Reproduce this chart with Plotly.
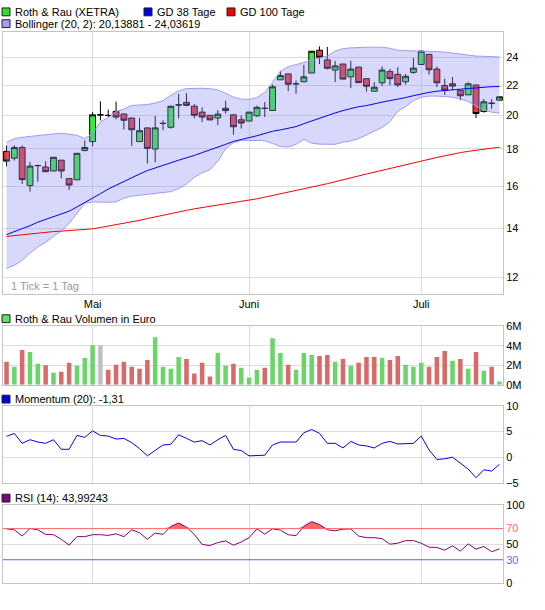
import numpy as np
import pandas as pd
import plotly.graph_objects as go
from plotly.subplots import make_subplots

W, H = 545, 610
L_PX, R_PX = 3, 503

# XETRA trading days 16.04.2009 - 15.07.2009 (1 May closed)
days = [d.strftime('%Y-%m-%d') for d in pd.bdate_range('2009-04-16', '2009-07-15')
        if d.strftime('%m-%d') != '05-01']
month_days = ['2009-05-04', '2009-06-01', '2009-07-01']
month_names = ['Mai', 'Juni', 'Juli']

open_ = [17.85, 17.47, 18.07, 16.02, 17.06, 16.99, 16.78, 17.36,
         16.38, 16.32, 17.90, 18.41, 20.03, 20.00, 20.25, 20.08,
         19.83, 18.41, 19.22, 17.98, 19.49, 19.26, 20.66, 20.83,
         20.58, 20.20, 20.00, 19.83, 20.45, 20.03, 19.72, 19.64,
         19.97, 20.45, 20.31, 22.37, 22.79, 22.08, 22.23, 22.85,
         24.56, 23.82, 23.07, 23.51, 22.58, 23.28, 22.45, 21.58,
         22.16, 22.97, 22.76, 22.23, 22.90, 23.48, 24.24, 23.14,
         21.97, 22.09, 21.64, 21.33, 22.01, 20.24, 20.78, 20.98]
high = [18.18, 18.20, 18.19, 17.27, 17.12, 17.30, 17.53, 17.37,
        16.39, 17.75, 18.47, 20.20, 20.90, 20.36, 20.88, 20.10,
        19.84, 19.83, 19.23, 19.97, 19.69, 20.62, 21.40, 21.44,
        20.72, 20.51, 20.01, 20.33, 20.94, 20.05, 19.99, 20.21,
        20.62, 20.85, 22.04, 23.02, 22.80, 22.32, 23.45, 24.50,
        24.86, 24.81, 23.73, 23.52, 23.75, 23.31, 22.46, 22.21,
        23.33, 23.15, 23.28, 22.79, 23.96, 24.56, 24.25, 23.33,
        22.45, 22.56, 21.65, 22.20, 22.02, 21.05, 21.05, 21.21]
low = [17.02, 17.34, 16.10, 15.72, 16.22, 16.74, 16.77, 16.40,
       15.80, 16.31, 17.85, 18.13, 19.68, 19.89, 19.74, 19.13,
       18.16, 18.40, 17.18, 17.25, 19.08, 19.18, 19.80, 20.58,
       19.82, 19.58, 19.70, 19.39, 20.11, 18.81, 19.18, 19.63,
       19.89, 19.89, 20.30, 22.36, 21.59, 21.41, 22.22, 22.84,
       23.51, 23.12, 22.21, 22.41, 21.79, 22.16, 21.55, 21.57,
       21.93, 21.99, 21.86, 22.04, 22.79, 23.47, 22.74, 21.86,
       21.33, 21.66, 20.98, 21.32, 19.82, 20.17, 20.41, 20.97]
close = [17.31, 18.07, 16.33, 17.04, 17.07, 16.74, 17.52, 16.78,
         16.05, 17.74, 18.07, 20.03, 20.03, 19.99, 19.89, 19.69,
         19.11, 19.05, 18.02, 19.22, 19.50, 20.58, 20.67, 20.64,
         20.00, 19.89, 19.71, 20.07, 20.30, 19.29, 19.52, 20.20,
         20.51, 20.44, 21.88, 22.67, 22.06, 22.10, 22.58, 24.48,
         24.02, 23.20, 23.37, 22.42, 23.14, 22.17, 21.92, 21.85,
         23.07, 22.45, 22.01, 22.62, 23.21, 24.48, 23.09, 22.16,
         21.65, 21.93, 21.27, 22.09, 20.11, 20.87, 20.77, 21.20]

# Volumen in Mio. Euro
volume = [2.35, 1.85, 3.56, 3.36, 2.15, 2.01, 1.24, 1.34,
          2.25, 1.95, 2.75, 4.06, 4.06, 1.54, 2.05, 2.35,
          1.85, 1.64, 2.55, 4.87, 1.85, 1.64, 2.85, 2.65,
          1.14, 2.25, 0.84, 3.26, 1.95, 2.15, 1.74, 0.74,
          1.54, 1.74, 4.77, 3.26, 2.05, 1.54, 3.26, 3.05,
          2.95, 3.05, 2.35, 2.65, 1.95, 2.25, 2.85, 2.85,
          2.75, 2.55, 2.95, 2.05, 1.85, 2.25, 1.85, 2.85,
          3.46, 2.45, 2.65, 1.64, 3.36, 1.44, 1.85, 0.34]

gd38 = [13.73, 13.85, 13.97, 14.12, 14.28, 14.40, 14.52, 14.64,
        14.78, 14.98, 15.18, 15.42, 15.62, 15.85, 16.05, 16.25,
        16.45, 16.62, 16.80, 16.95, 17.10, 17.22, 17.36, 17.48,
        17.62, 17.78, 17.95, 18.10, 18.25, 18.42, 18.55, 18.64,
        18.75, 18.90, 19.02, 19.10, 19.18, 19.30, 19.48, 19.65,
        19.82, 20.00, 20.15, 20.30, 20.45, 20.55, 20.62, 20.75,
        20.85, 20.95, 21.03, 21.15, 21.28, 21.40, 21.50, 21.58,
        21.64, 21.68, 21.72, 21.76, 21.82, 21.87, 21.89, 21.90]
gd100 = [13.65, 13.69, 13.72, 13.76, 13.79, 13.83, 13.86, 13.88,
         13.90, 13.92, 13.95, 13.98, 14.04, 14.10, 14.16, 14.23,
         14.30, 14.36, 14.44, 14.52, 14.60, 14.68, 14.75, 14.82,
         14.89, 14.95, 15.02, 15.08, 15.13, 15.19, 15.24, 15.29,
         15.37, 15.45, 15.53, 15.61, 15.69, 15.77, 15.85, 15.93,
         16.02, 16.12, 16.22, 16.33, 16.43, 16.52, 16.62, 16.72,
         16.81, 16.90, 17.00, 17.10, 17.20, 17.31, 17.41, 17.51,
         17.60, 17.70, 17.78, 17.85, 17.92, 17.98, 18.03, 18.08]
bb_upper = [18.36, 18.58, 18.66, 18.72, 18.75, 18.81, 18.86, 18.90,
            18.86, 18.78, 18.58, 18.89, 19.59, 19.86, 20.24, 20.40,
            20.63, 20.66, 20.69, 20.79, 20.95, 21.31, 21.60, 21.76,
            21.78, 21.78, 21.75, 21.67, 21.44, 21.18, 21.05, 21.03,
            21.14, 21.51, 22.19, 22.97, 23.31, 23.45, 23.63, 23.82,
            23.96, 24.11, 24.49, 24.68, 24.74, 24.79, 24.79, 24.79,
            24.79, 24.71, 24.56, 24.52, 24.51, 24.51, 24.49, 24.45,
            24.41, 24.33, 24.26, 24.15, 24.11, 24.09, 24.07, 24.04]
bb_lower = [12.34, 12.46, 12.66, 12.95, 13.20, 13.40, 13.65, 13.88,
            14.22, 14.70, 15.15, 15.22, 15.20, 15.20, 15.22, 15.40,
            15.50, 15.55, 15.58, 15.62, 15.68, 15.72, 15.88, 16.10,
            16.45, 16.68, 16.85, 17.30, 18.00, 18.35, 18.48, 18.48,
            18.48, 18.46, 18.30, 18.12, 18.10, 18.25, 18.54, 18.32,
            18.26, 18.25, 18.25, 18.38, 18.45, 18.58, 18.80, 19.05,
            19.25, 19.60, 20.25, 20.55, 20.95, 21.18, 21.25, 21.25,
            21.22, 21.18, 21.05, 20.90, 20.60, 20.35, 20.20, 20.14]

momentum = [4.08, 4.65, 2.74, 3.44, 2.99, 2.74, 3.44, 1.59,
            1.59, 4.27, 3.89, 5.16, 4.27, 4.14, 3.57, 3.69,
            2.87, 1.72, 0.32, 1.40, 2.42, 2.55, 4.39, 3.69,
            2.99, 3.25, 2.42, 3.44, 4.27, 1.59, 1.34, 0.32,
            0.45, 0.45, 2.42, 2.99, 2.99, 2.99, 4.78, 5.41,
            4.65, 2.74, 2.74, 1.85, 3.12, 2.42, 2.23, 1.85,
            2.74, 3.12, 2.61, 2.61, 2.74, 4.14, 1.46, -0.38,
            -0.25, 0.06, -1.15, -2.23, -3.89, -2.36, -2.61, -1.31]
rsi = [69.7, 68.5, 60.5, 70.2, 68.5, 62.6, 62.2, 56.3,
       48.7, 59.7, 59.7, 62.2, 62.2, 61.3, 63.4, 59.7,
       68.5, 64.7, 56.3, 64.3, 62.6, 72.7, 77.3, 71.8,
       62.6, 49.6, 48.3, 52.1, 54.2, 48.7, 52.9, 58.4,
       69.7, 63.0, 69.7, 68.1, 62.2, 60.9, 73.1, 79.0,
       75.2, 68.5, 67.2, 69.3, 69.7, 60.5, 58.4, 58.4,
       57.1, 50.0, 51.3, 54.6, 54.6, 51.3, 46.2, 45.8,
       42.4, 47.9, 41.2, 50.4, 43.7, 47.1, 40.3, 43.99]
RSI_HIGH, RSI_LOW = 70, 30

# volume colour: close vs previous close
prev = [open_[0]] + close[:-1]
vol_colors = ['#6ad66a' if c > p else '#d96a6a' if c < p else '#c0c0c0'
              for c, p in zip(close, prev)]

fig = make_subplots(rows=4, cols=1, shared_xaxes=True)

band = '#9c9cf2'
fig.add_trace(go.Scatter(x=days, y=bb_upper, mode='lines',
                         line=dict(color=band, width=1)), row=1, col=1)
fig.add_trace(go.Scatter(x=days, y=bb_lower, mode='lines',
                         line=dict(color=band, width=1),
                         fill='tonexty', fillcolor='rgba(140,140,250,0.34)'), row=1, col=1)
fig.add_trace(go.Scatter(x=days, y=gd100, mode='lines',
                         line=dict(color='#ff0000', width=1)), row=1, col=1)
fig.add_trace(go.Scatter(x=days, y=gd38, mode='lines',
                         line=dict(color='#0000ff', width=1)), row=1, col=1)
fig.add_trace(go.Candlestick(x=days, open=open_, high=high, low=low, close=close,
                             increasing=dict(line=dict(color='black', width=1), fillcolor='#33f033'),
                             decreasing=dict(line=dict(color='black', width=1), fillcolor='#f03333'),
                             whiskerwidth=0), row=1, col=1)

fig.add_trace(go.Bar(x=days, y=volume, marker=dict(color=vol_colors, line=dict(width=0))),
              row=2, col=1)

fig.add_trace(go.Scatter(x=days, y=momentum, mode='lines',
                         line=dict(color='#0000ff', width=1)), row=3, col=1)

fig.add_trace(go.Scatter(x=days, y=[RSI_HIGH] * len(days), mode='lines',
                         line=dict(width=0)), row=4, col=1)
fig.add_trace(go.Scatter(x=days, y=np.maximum(rsi, RSI_HIGH), mode='lines',
                         line=dict(width=0), fill='tonexty', fillcolor='#ff6666'), row=4, col=1)
fig.add_hline(y=RSI_HIGH, line_color='#ff6666', line_width=1, row=4, col=1)
fig.add_hline(y=RSI_LOW, line_color='#6666ff', line_width=1, row=4, col=1)
fig.add_trace(go.Scatter(x=days, y=rsi, mode='lines',
                         line=dict(color='#800080', width=1)), row=4, col=1)

grid = '#dcdcdc'
frame = '#c4c4c4'
fig.update_xaxes(type='category', range=[-0.45, 63.45], tickvals=month_days,
                 ticktext=month_names, showgrid=True, gridcolor=grid, gridwidth=1,
                 showline=True, linecolor=frame, mirror=True, ticks='',
                 rangeslider_visible=False, showticklabels=False)
fig.update_xaxes(showticklabels=True, row=1, col=1)
fig.update_yaxes(side='right', showgrid=True, gridcolor=grid, showline=True,
                 linecolor=frame, mirror=True, ticks='', zeroline=False)

fig.update_layout(
    width=W, height=H, margin=dict(l=L_PX, r=W - R_PX, t=0, b=0),
    showlegend=False, plot_bgcolor='white', paper_bgcolor='white',
    font=dict(family='Liberation Sans, Arial, sans-serif', size=11, color='black'),
    bargap=0.42, boxgap=0.25, boxgroupgap=0,
    yaxis=dict(domain=[0.5192, 0.9557], type='log',
               range=[np.log10(11.40), np.log10(25.97)],
               tickvals=[12, 14, 16, 18, 20, 22, 24]),
    yaxis2=dict(domain=[0.3667, 0.4644], range=[0, 6], tickvals=[0, 2, 4, 6],
                ticktext=['0M', '2M', '4M', '6M']),
    yaxis3=dict(domain=[0.2016, 0.3316], range=[-5, 10], tickvals=[-5, 0, 5, 10]),
    yaxis4=dict(domain=[0.0349, 0.1651], range=[0, 100], tickvals=[0, 30, 50, 70, 100],
                ticktext=['0', '<span style="color:#6666ff">30</span>', '50',
                          '<span style="color:#ff6666">70</span>', '100']),
)


def px_x(px):
    return (px - L_PX) / (R_PX - L_PX)


def px_y(py):
    return 1 - py / H


def legend_item(x, y, color, text):
    fig.add_shape(type='rect', xref='paper', yref='paper',
                  x0=px_x(x), x1=px_x(x + 8), y0=px_y(y + 4), y1=px_y(y - 4),
                  line=dict(color='#222222', width=1), fillcolor=color)
    fig.add_annotation(xref='paper', yref='paper', x=px_x(x + 11), y=px_y(y),
                       text=text, showarrow=False, xanchor='left', yanchor='middle',
                       font=dict(size=11))


legend_item(2, 6, '#33dd33', 'Roth &amp; Rau (XETRA)')
legend_item(144, 6, '#0000ee', 'GD 38 Tage')
legend_item(227, 6, '#ee0000', 'GD 100 Tage')
legend_item(2, 18, '#a0a0f0', 'Bollinger (20, 2): 20,13881 - 24,03619')
legend_item(2, 319, '#66dd66', 'Roth &amp; Rau Volumen in Euro')
legend_item(2, 401, '#0000ee', 'Momentum (20): -1,31')
legend_item(2, 502, '#800080', 'RSI (14): 43,99243')

fig.add_annotation(xref='paper', yref='paper', x=px_x(9), y=px_y(286),
                   text='1 Tick = 1 Tag', showarrow=False, xanchor='left',
                   yanchor='middle', font=dict(size=11, color='#9a9a9a'))

# page body margin would shift the chart by 8px
fig.write_html("out.html", config={'displayModeBar': False},
               post_script="document.body.style.margin='0px';")
